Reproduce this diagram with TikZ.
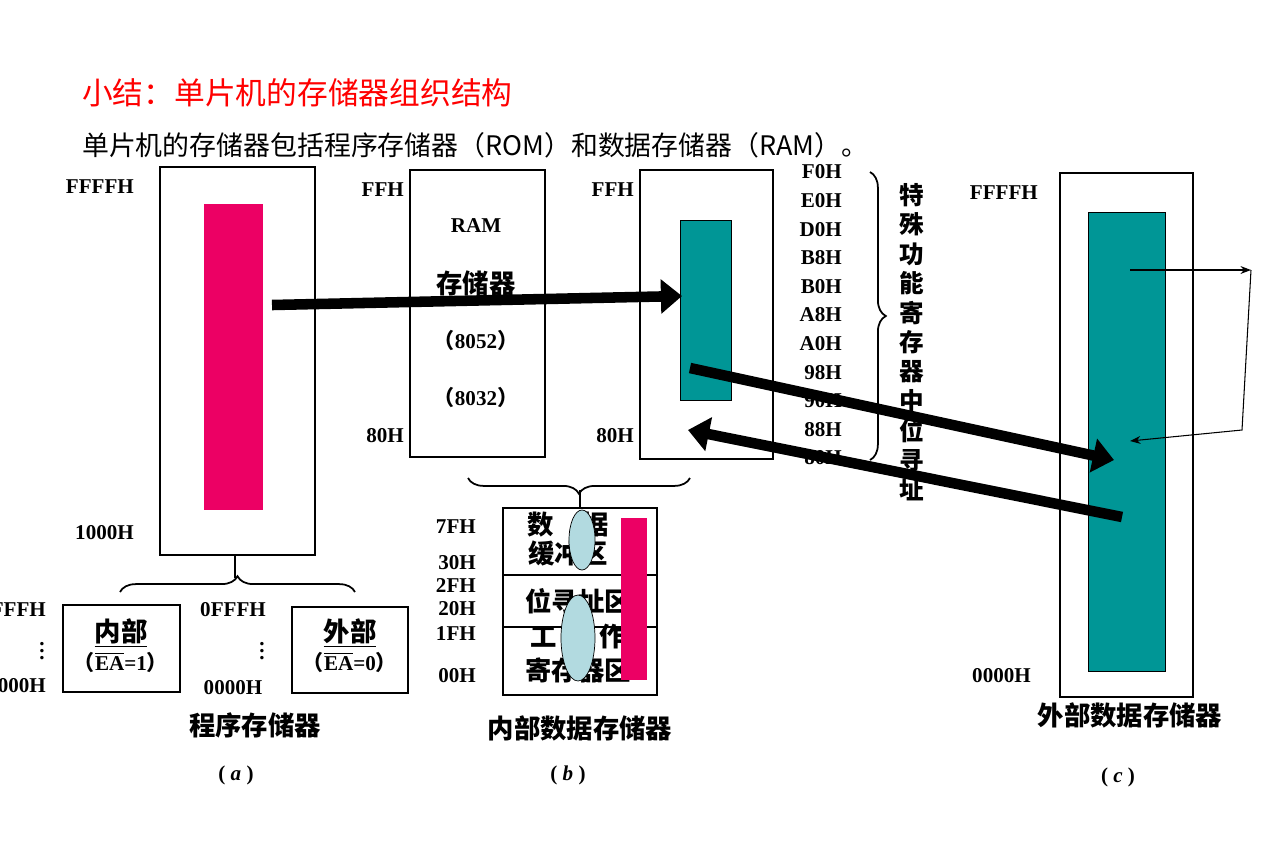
\documentclass[tikz,border=0pt]{standalone}
\usepackage{fontspec}
\setmainfont{Liberation Serif}
\newfontfamily\cjk{Noto Sans CJK SC}
\usetikzlibrary{decorations.pathreplacing,arrows.meta}
\definecolor{rose}{RGB}{236,0,100}
\definecolor{teal2}{RGB}{0,150,150}
\definecolor{lblue}{RGB}{178,218,224}
\tikzset{
  addr/.style={font=\fontsize{12}{14}\selectfont\bfseries},
  zh/.style={font=\cjk\fontsize{15}{17}\selectfont\bfseries},
  memb/.style={draw,line width=1.6pt},
  bigarr/.style={line width=6pt,-{Triangle[length=12pt,width=19pt]}},
  thin/.style={line width=0.6pt,-{Stealth[length=6pt]}},
  brc/.style={decorate,decoration={brace,amplitude=9pt},line width=1pt}
}
\begin{document}
\begin{tikzpicture}[x=0.02cm,y=-0.02cm]
  \useasboundingbox (0,0) rectangle (1275,850);
  % headings
  \node[anchor=west,text=red,font=\cjk\fontsize{17.5}{20}\selectfont] (title) at (76,93) {小结：单片机的存储器组织结构};
  \node[anchor=west,font=\cjk\fontsize{15.3}{18}\selectfont] (sub) at (76,145) {单片机的存储器包括程序存储器（ROM）和数据存储器（RAM）。};
  % (a) program memory
  \draw[memb] (160,167) rectangle (315,555);
  \fill[rose] (204,204) rectangle (263,510);
  \node[addr,anchor=east] (fa) at (140,187) {FFFFH};
  \node[addr,anchor=east] (ka) at (140,533) {1000H};
  \draw[line width=1.2pt] (235,555) -- (235,578);
  \draw[brc] (120,592) -- (355,592);
  \draw[memb] (63,605) rectangle (180,692);
  \node[zh] (inn) at (121,633) {\underline{内部}};
  \node[addr] (ea1) at (121,662) {{\cjk （}$\overline{\mbox{EA}}$=1{\cjk ）}};
  \node[addr,anchor=east] (fi) at (52,610) {FFFFH};
  \node[addr,inner sep=0pt] (di) at (42,646) {$\vdots$};
  \node[addr,anchor=east] (zi) at (52,686) {0000H};
  \node[addr] (fo) at (233,610) {0FFFH};
  \node[addr,inner sep=0pt] (do) at (262,646) {$\vdots$};
  \node[addr] (zo) at (233,688) {0000H};
  \draw[memb] (292,607) rectangle (408,693);
  \node[zh] (out) at (350,633) {\underline{外部}};
  \node[addr] (ea0) at (350,662) {{\cjk （}$\overline{\mbox{EA}}$=0{\cjk ）}};
  \node[zh] (pm) at (255,725) {程序存储器};
  \node[addr] (la) at (236,775) {( \textit{a} )};
  % RAM block
  \draw[memb] (410,170) rectangle (545,457);
  \node[addr] (r1) at (476,226) {RAM};
  \node[zh] (r2) at (476,283) {存储器};
  \node[addr] (r3) at (476,340) {{\cjk （}8052{\cjk ）}};
  \node[addr] (r4) at (476,397) {{\cjk （}8032{\cjk ）}};
  \node[addr,anchor=east] (rf) at (410,190) {FFH};
  \node[addr,anchor=east] (r8) at (410,436) {80H};
  % SFR block
  \draw[memb] (640,170) rectangle (773,459);
  \fill[teal2] (680,220) rectangle (731,400);
  \draw (680,220) rectangle (731,400);
  \node[addr,anchor=east] (sf) at (640,190) {FFH};
  \node[addr,anchor=east] (s8) at (640,436) {80H};
  \foreach \a [count=\i from 0] in {F0H,E0H,D0H,B8H,B0H,A8H,A0H,98H,90H,88H,80H}
    \node[addr,anchor=east] (b\i) at (848,172+28.6*\i) {\a};
  \draw[brc] (870,172) -- (870,460);
  \foreach \c [count=\i from 0] in {特,殊,功,能,寄,存,器,中,位,寻,址}
    \node[font=\cjk\fontsize{14}{16}\selectfont\bfseries] (v\i) at (912,195+29.5*\i) {\c};
  \draw[brc] (690,478) -- (468,478);
  % (b) internal data memory
  \draw[memb] (503,508) rectangle (657,695);
  \draw[line width=1.2pt] (503,575) -- (657,575) (503,627) -- (657,627);
  \draw[line width=1.2pt] (580,490) -- (580,508);
  \node[zh] (d1) at (568,525) {数\hspace{1.1em}据};
  \node[zh] (d2) at (568,553) {缓冲区};
  \node[zh] (d3) at (578,601) {位寻址区};
  \node[zh] (d4) at (578,637) {工\hspace{1.6em}作};
  \node[zh] (d5) at (578,670) {寄存器区};
  \fill[rose] (621,518) rectangle (647,680);
  \draw[fill=lblue] (582,540) ellipse [x radius=13,y radius=30];
  \draw[fill=lblue] (578,638) ellipse [x radius=17,y radius=43];
  \foreach \a/\y in {7FH/527,30H/563,2FH/586,20H/609,1FH/634,00H/676}
    \node[addr,anchor=east] at (482,\y) {\a};
  \node[zh] (im) at (580,728) {内部数据存储器};
  \node[addr] (lb) at (568,775) {( \textit{b} )};
  % (c) external data memory
  \draw[memb] (1060,173) rectangle (1193,697);
  \fill[teal2] (1088,212) rectangle (1165,671);
  \draw (1088,212) rectangle (1165,671);
  \node[addr,anchor=east] (cf) at (1044,193) {FFFFH};
  \node[addr,anchor=east] (cz) at (1037,676) {0000H};
  \node[zh] (em) at (1130,715) {外部数据存储器};
  \node[addr] (lc) at (1118,777) {( \textit{c} )};
  % arrows
  \coordinate (p1) at (272,305); \coordinate (p2) at (682,296);
  \coordinate (p3) at (690,368); \coordinate (p4) at (1114,460);
  \coordinate (p5) at (1122,517); \coordinate (p6) at (688,430);
  \draw[bigarr] (p1) -- (p2);
  \draw[bigarr] (p3) -- (p4);
  \draw[bigarr] (p5) -- (p6);
  \coordinate (q1) at (1130,270); \coordinate (q2) at (1251,270);
  \coordinate (q3) at (1242,430); \coordinate (q4) at (1130,441);
  \draw[thin] (q1) -- (q2);
  \draw[thin] (q2) -- (q3) -- (q4);
\end{tikzpicture}
\end{document}
